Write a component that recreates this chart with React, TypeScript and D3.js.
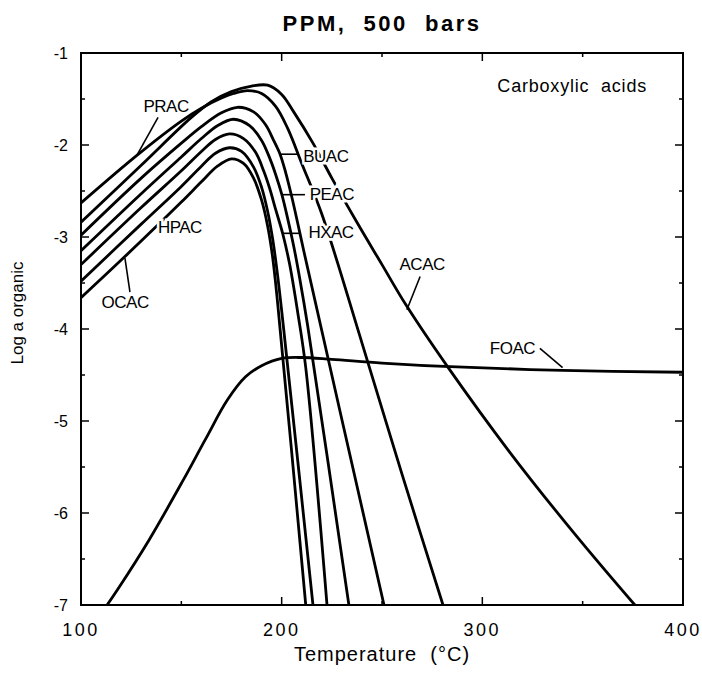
import React from "react";
import * as d3 from "d3";

// log activity of organic acids vs temperature
const acac: [number, number][] = [
  [100, -2.84], [130, -2.22], [155, -1.7], [165, -1.53], [175, -1.42], [185, -1.36],
  [193, -1.35], [200, -1.45], [206, -1.64], [215.6, -1.98], [225, -2.36],
  [237.5, -2.84], [250, -3.3], [262, -3.74], [283, -4.42], [313.7, -5.34], [345, -6.2], [376, -7],
];
const prac: [number, number][] = [
  [100, -2.63], [128, -2.11], [150, -1.74], [160, -1.6], [170, -1.49], [176, -1.44],
  [183, -1.41], [190, -1.44], [197, -1.58], [203, -1.82], [210, -2.2], [220, -2.75],
  [240, -4.15], [260, -5.58], [280.4, -7],
];
const buac: [number, number][] = [
  [100, -2.98], [130, -2.36], [150, -1.98], [160, -1.8], [170, -1.65], [178, -1.59],
  [186, -1.64], [192, -1.78], [196, -1.95], [199.2, -2.1], [202, -2.3], [205, -2.56],
  [208, -2.85], [211, -3.15], [251, -7],
];
const peac: [number, number][] = [
  [100, -3.15], [130, -2.53], [150, -2.13], [160, -1.93], [168, -1.79], [176, -1.72],
  [184, -1.79], [190, -1.95], [194, -2.14], [197, -2.32], [200.1, -2.54], [203, -2.8],
  [206, -3.1], [209, -3.45], [213, -3.97], [233.5, -7],
];
const hxac: [number, number][] = [
  [100, -3.3], [130, -2.68], [150, -2.28], [160, -2.07], [167, -1.94], [174, -1.88],
  [181, -1.93], [187, -2.08], [191, -2.28], [194, -2.47], [197, -2.7], [200.6, -2.97],
  [204, -3.3], [208, -3.82], [212, -4.42], [222.6, -7],
];
const hpac: [number, number][] = [
  [100, -3.48], [130, -2.86], [150, -2.45], [160, -2.23], [167, -2.09], [174, -2.03],
  [180, -2.07], [186, -2.24], [190, -2.46], [193, -2.72], [195.5, -3.02], [198, -3.42],
  [201, -4.0], [215.6, -7],
];
const ocac: [number, number][] = [
  [100, -3.66], [122, -3.21], [150, -2.62], [160, -2.4], [168, -2.23], [175, -2.15],
  [181, -2.2], [186, -2.36], [190, -2.6], [193, -2.88], [195.5, -3.22], [198, -3.72], [212, -7],
];
const foac: [number, number][] = [
  [113, -7], [118, -6.84], [134, -6.29], [151, -5.64], [162, -5.2], [173, -4.77],
  [182, -4.52], [190, -4.4], [200, -4.32], [210, -4.31], [225, -4.33], [250, -4.37],
  [284, -4.41], [340, -4.45], [400, -4.47],
];

const curves = [acac, prac, buac, peac, hxac, hpac, ocac, foac];

const labelNames = ["PRAC", "BUAC", "PEAC", "HXAC", "HPAC", "OCAC", "ACAC", "FOAC"];
const labelAt: [number, number][] = [
  [142.4, -1.58], [222, -2.12], [225, -2.54], [224.6, -2.95],
  [149.3, -2.9], [122, -3.71], [270, -3.3], [315, -4.21],
];
const leaders: [number, number][][] = [
  [[138.4, -1.7], [127.9, -2.11]],
  [[199.2, -2.1], [208.3, -2.1]],
  [[200.1, -2.54], [211.6, -2.54]],
  [[200.6, -2.96], [209.5, -2.96]],
  [[124.4, -3.6], [121.9, -3.23]],
  [[269, -3.43], [262.4, -3.79]],
  [[328.7, -4.21], [340, -4.42]],
];

const xTicks = [100, 200, 300, 400];
const xMinor = [150, 250, 350];
const yTicks = [-1, -2, -3, -4, -5, -6, -7];
const yMinor = [-1.5, -2.5, -3.5, -4.5, -5.5, -6.5];

const W = 702;
const H = 676;
const font = "'Liberation Sans', Arial, Helvetica, sans-serif";

export default function App() {
  const x = d3.scaleLinear().domain([100, 400]).range([81, 683]);
  const y = d3.scaleLinear().domain([-7, -1]).range([605, 53]);
  const line = d3
    .line<[number, number]>()
    .x((d) => x(d[0]))
    .y((d) => y(d[1]))
    .curve(d3.curveCatmullRom.alpha(0.5));
  const seg = d3.line<[number, number]>().x((d) => x(d[0])).y((d) => y(d[1]));

  const [x0, x1] = x.range();
  const [y0, y1] = y.range(); // y0 bottom, y1 top

  return (
    <svg
      width={W}
      height={H}
      style={{ position: "absolute", left: 0, top: 0, background: "#fff" }}
      fontFamily={font}
    >
      <text
        x={(x0 + x1) / 2}
        y={31}
        textAnchor="middle"
        fontSize={22}
        fontWeight="bold"
        letterSpacing={2.5}
        style={{ whiteSpace: "pre" }}
      >
        {"PPM,  500  bars"}
      </text>

      <defs>
        <clipPath id="plot">
          <rect x={x0} y={y1} width={x1 - x0} height={y0 - y1} />
        </clipPath>
      </defs>

      <g clipPath="url(#plot)">
        {curves.map((c, i) => (
          <path key={i} d={line(c) || ""} fill="none" stroke="#000" strokeWidth={2.8} strokeLinejoin="round" />
        ))}
      </g>

      {leaders.map((l, i) => (
        <path key={"l" + i} d={seg(l) || ""} stroke="#000" strokeWidth={1.6} fill="none" />
      ))}

      {labelNames.map((name, i) => (
        <text
          key={name}
          x={x(labelAt[i][0])}
          y={y(labelAt[i][1])}
          textAnchor="middle"
          dominantBaseline="central"
          fontSize={17}
          letterSpacing={-0.5}
          stroke="#fff"
          strokeWidth={5}
          paintOrder="stroke"
          fill="#000"
        >
          {name}
        </text>
      ))}

      <text x={647} y={92} textAnchor="end" fontSize={18} letterSpacing={0.8} style={{ whiteSpace: "pre" }}>
        {"Carboxylic  acids"}
      </text>

      {/* frame */}
      <rect x={x0} y={y1} width={x1 - x0} height={y0 - y1} fill="none" stroke="#000" strokeWidth={2} />

      {xTicks.map((t) => (
        <g key={"xt" + t}>
          <line x1={x(t)} x2={x(t)} y1={y0} y2={y0 - 8} stroke="#000" strokeWidth={1.5} />
          <line x1={x(t)} x2={x(t)} y1={y1} y2={y1 + 8} stroke="#000" strokeWidth={1.5} />
          <text x={x(t)} y={636} textAnchor="middle" fontSize={18} letterSpacing={2.5}>
            {t}
          </text>
        </g>
      ))}
      {xMinor.map((t) => (
        <g key={"xm" + t}>
          <line x1={x(t)} x2={x(t)} y1={y0} y2={y0 - 4} stroke="#000" strokeWidth={1.5} />
          <line x1={x(t)} x2={x(t)} y1={y1} y2={y1 + 4} stroke="#000" strokeWidth={1.5} />
        </g>
      ))}
      {yTicks.map((t) => (
        <g key={"yt" + t}>
          <line x1={x0} x2={x0 + 8} y1={y(t)} y2={y(t)} stroke="#000" strokeWidth={1.5} />
          <line x1={x1} x2={x1 - 8} y1={y(t)} y2={y(t)} stroke="#000" strokeWidth={1.5} />
          <text x={68} y={y(t)} textAnchor="end" dominantBaseline="central" fontSize={16}>
            {t}
          </text>
        </g>
      ))}
      {yMinor.map((t) => (
        <g key={"ym" + t}>
          <line x1={x0} x2={x0 + 4} y1={y(t)} y2={y(t)} stroke="#000" strokeWidth={1.5} />
          <line x1={x1} x2={x1 - 4} y1={y(t)} y2={y(t)} stroke="#000" strokeWidth={1.5} />
        </g>
      ))}

      <text
        x={(x0 + x1) / 2}
        y={661}
        textAnchor="middle"
        fontSize={20}
        letterSpacing={1}
        style={{ whiteSpace: "pre" }}
      >
        {"Temperature  (°C)"}
      </text>
      <text transform={`translate(23, 313) rotate(-90)`} textAnchor="middle" fontSize={17}>
        Log a organic
      </text>
    </svg>
  );
}
